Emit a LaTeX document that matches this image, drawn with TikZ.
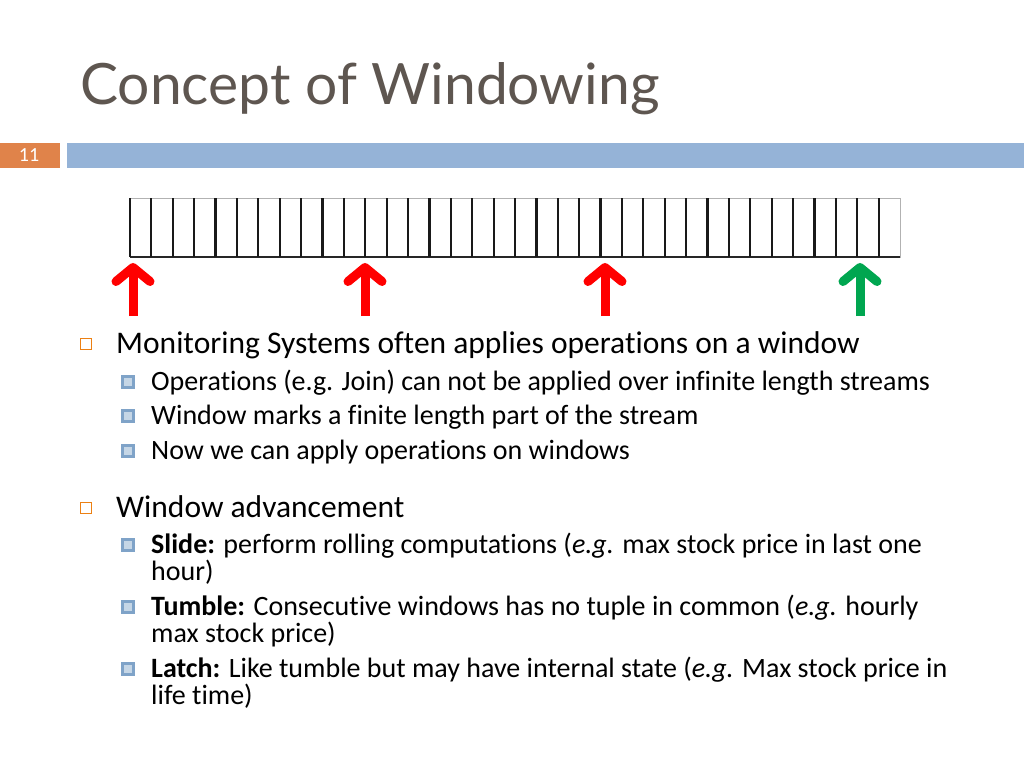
\documentclass[tikz,border=0pt]{standalone}
\usepackage{fontspec}
\setmainfont{Carlito}[Ligatures=NoCommon]
\newfontfamily\titlefont{Lato}
\begin{document}
\begin{tikzpicture}[x=1pt,y=-1pt,
  txt/.style={anchor=base west,inner sep=0pt},
  mainb/.style={draw=orange!70!brown,line width=1.2pt,minimum size=11pt,inner sep=0pt},
  subb/.style={draw=bluebul,fill=bluebul!45,line width=2.4pt,minimum size=11pt,inner sep=0pt},
  mainf/.style={font=\fontsize{31.5}{36}\selectfont},
  subf/.style={font=\fontsize{28}{32}\selectfont},
  uparrow/.style={line width=9pt,-{Straight Barb[length=14pt,width=34pt,line cap=round,line join=round]}}]
\usetikzlibrary{arrows.meta}
\definecolor{bluebul}{HTML}{7FA3C8}
\definecolor{hdrblue}{HTML}{95B3D7}
\definecolor{hdrorange}{HTML}{E0834A}
\definecolor{titlecol}{HTML}{5E5650}
\definecolor{grn}{HTML}{00A650}
\useasboundingbox (0,0) rectangle (1024,768);
\fill[white] (0,0) rectangle (1024,768);
\node[txt,font=\titlefont\fontsize{57}{62}\selectfont,text=titlecol] (title) at (80,104) {Concept of Windowing};
\fill[hdrorange] (0,143) rectangle (60,168);
\node[font=\fontsize{20}{22}\selectfont,text=white] (num) at (29,155) {11};
\fill[hdrblue] (67,143) rectangle (1024,168);
% stream
\draw[gray!60] (130,198) rectangle (900,257);
\draw[black!85,line width=1.5pt] (130,257) -- (900,257);
\foreach \i in {0,...,35} {\draw[black!90,line width=2.2pt] ({130+\i*21.39},198) -- ({130+\i*21.39},257);}
\coordinate (a1) at (133,316); \coordinate (b1) at (133,263);
\coordinate (a2) at (365,316); \coordinate (b2) at (365,263);
\coordinate (a3) at (605,316); \coordinate (b3) at (605,263);
\coordinate (a4) at (860,316); \coordinate (b4) at (860,263);
\draw[uparrow,red] (a1) -- (b1);
\draw[uparrow,red] (a2) -- (b2);
\draw[uparrow,red] (a3) -- (b3);
\draw[uparrow,grn] (a4) -- (b4);
% text
\node[mainb] (m1) at (86,344) {};
\node[txt,mainf] (t1) at (116,353) {Monitoring Systems often applies operations on a window};
\node[subb] (s1) at (128,382) {};
\node[txt,subf] (u1) at (151,390) {Operations (e.g. Join) can not be applied over infinite length streams};
\node[subb] (s2) at (128,416) {};
\node[txt,subf] (u2) at (151,424) {Window marks a finite length part of the stream};
\node[subb] (s3) at (128,451) {};
\node[txt,subf] (u3) at (151,459) {Now we can apply operations on windows};
\node[mainb] (m2) at (86,508) {};
\node[txt,mainf] (t2) at (116,517) {Window advancement};
\node[subb] (s4) at (128,545) {};
\node[txt,subf] (u4) at (151,553) {\textbf{Slide:} perform rolling computations (\textit{e.g.} max stock price in last one};
\node[txt,subf] (u4b) at (151,580) {hour)};
\node[subb] (s5) at (128,607) {};
\node[txt,subf] (u5) at (151,615) {\textbf{Tumble:} Consecutive windows has no tuple in common (\textit{e.g.} hourly};
\node[txt,subf] (u5b) at (151,642) {max stock price)};
\node[subb] (s6) at (128,669) {};
\node[txt,subf] (u6) at (151,677) {\textbf{Latch:} Like tumble but may have internal state (\textit{e.g.} Max stock price in};
\node[txt,subf] (u6b) at (151,704) {life time)};
\end{tikzpicture}
\end{document}
